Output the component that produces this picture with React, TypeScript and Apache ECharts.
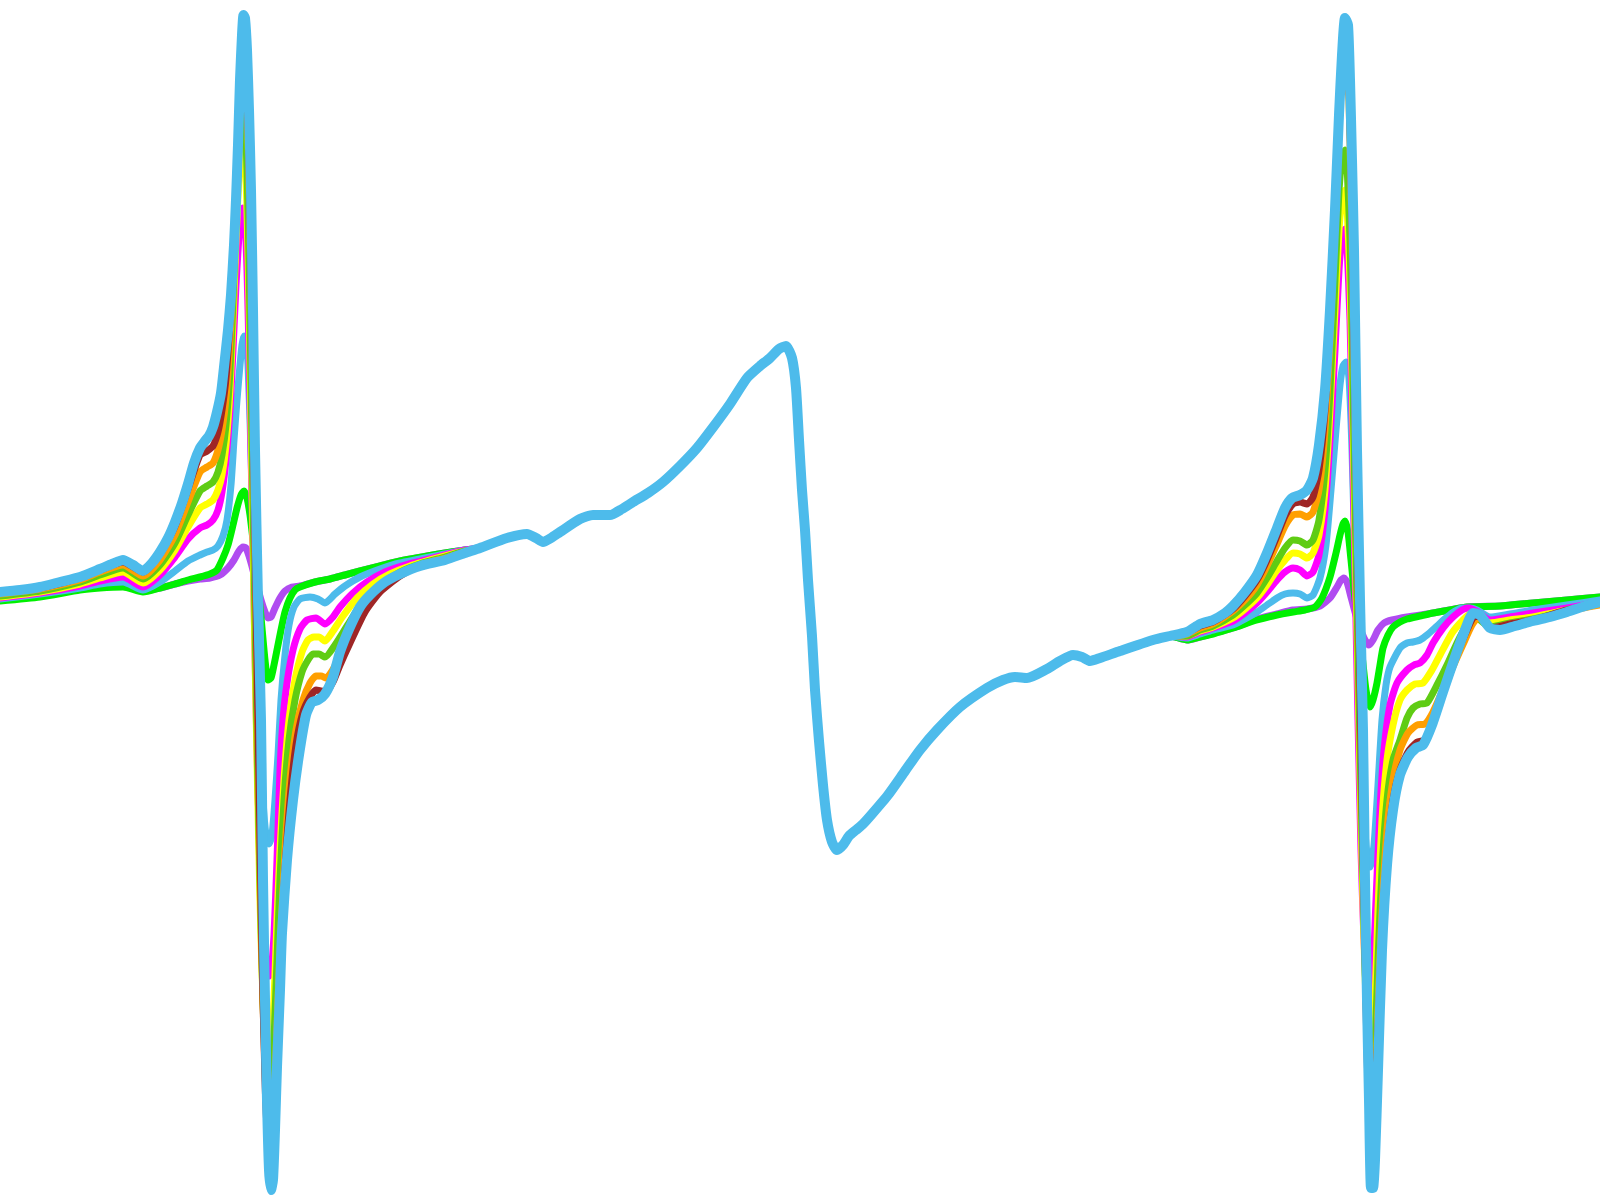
import React, { useEffect, useRef } from "react";
import * as echarts from "echarts";

type P = [number, number];

// x: field position (0..1600), y: signal (plotted on an inverted axis, 0 = top)
const tickValues = [207, 508];

const centerShared: P[] = [
  [480, 548], [507, 538], [527, 534], [536, 538], [543, 542], [551, 538], [560, 532], [580, 519], [593, 515],
  [610, 515], [622, 509], [633, 502], [648, 493], [663, 482], [680, 466], [697, 448], [714, 426], [730, 404],
  [747, 378], [760, 366], [770, 358], [779, 349], [786, 346], [792, 358], [796, 388], [799, 440], [802, 490],
  [805, 530], [808, 580], [812, 636], [815, 690], [819, 741], [823, 785], [827, 820], [832, 842], [837, 850],
  [843, 845], [849, 836], [856, 830], [863, 824], [872, 814], [888, 795], [905, 771], [920, 750], [937, 730],
  [960, 707], [987, 688], [1003, 680], [1015, 677], [1027, 678], [1047, 669], [1060, 661], [1073, 655],
  [1082, 657], [1090, 661], [1100, 658], [1120, 651], [1153, 640], [1170, 636],
];

const bigBlueLeft: P[] = [
  [0, 592], [20, 590], [40, 587], [60, 582], [80, 577], [100, 569], [112, 564], [123, 560], [133, 565], [143, 571],
  [152, 563], [160, 552], [168, 538], [175, 522], [182, 503], [188, 484], [194, 463], [200, 448], [205, 441],
  [209, 436], [213, 427], [217, 412], [221, 393], [224, 367], [228, 330], [231, 295], [234, 245], [236, 200],
  [238, 145], [240, 80], [242, 35], [243.5, 15], [245, 18], [247, 50], [249, 110], [251, 190], [253, 310],
  [255, 450], [258, 600], [261, 720], [263, 880], [265, 1000], [267, 1100], [269, 1170], [271, 1190], [273, 1180],
  [275, 1130], [277, 1067], [280, 990], [282, 933], [287, 860], [293, 800], [299, 755], [306, 715], [312, 702],
  [318, 700], [325, 694], [333, 677], [340, 652], [350, 627], [360, 607], [370, 595], [385, 582], [400, 574],
  [420, 566], [445, 560], [465, 553],
];
const bigBlueRight: P[] = [
  [1187, 632], [1200, 624], [1213, 620], [1225, 613], [1233, 606], [1245, 592], [1257, 575], [1267, 553],
  [1277, 528], [1285, 508], [1292, 498], [1300, 495], [1307, 490], [1313, 478], [1319, 445], [1325, 390],
  [1330, 310], [1335, 210], [1339, 115], [1342, 55], [1345, 18], [1348, 25], [1350, 80], [1352, 160],
  [1354, 250], [1357, 450], [1360, 600], [1363, 730], [1365, 880], [1367, 1000], [1369, 1100], [1371, 1188],
  [1373, 1188], [1375, 1160], [1378, 1070], [1382, 950], [1387, 865], [1393, 810], [1400, 775], [1408, 757],
  [1416, 748], [1423, 745], [1432, 725], [1443, 692], [1455, 657], [1465, 630], [1473, 613], [1480, 615],
  [1490, 628], [1500, 630], [1515, 626], [1533, 621], [1550, 617], [1567, 612], [1585, 606], [1600, 602],
];

const brownLeft: P[] = [
  [0, 592], [40, 588], [80, 578], [100, 570], [123, 562], [143, 572], [160, 554], [175, 526], [188, 489],
  [200, 455], [207, 451], [213, 446], [218, 432], [222, 410], [226, 378], [230, 320], [233, 260], [236, 190],
  [239, 110], [241, 60], [243, 42], [245, 45], [247, 80], [249, 160], [251, 270], [253, 400], [256, 600],
  [259, 780], [262, 950], [265, 1080], [268, 1145], [270, 1155], [272, 1150], [275, 1100], [278, 1020],
  [281, 950], [285, 870], [290, 800], [296, 745], [303, 712], [310, 697], [316, 690], [321, 691], [326, 692],
  [333, 682], [340, 665], [350, 643], [365, 612], [380, 592], [400, 576], [420, 566], [445, 559], [465, 552],
];
const brownRight: P[] = [
  [1187, 633], [1200, 626], [1213, 622], [1233, 609], [1245, 596], [1257, 580], [1267, 560], [1277, 536],
  [1285, 516], [1293, 504], [1300, 502], [1307, 504], [1313, 497], [1319, 470], [1325, 410], [1330, 320],
  [1335, 210], [1339, 115], [1342, 60], [1345, 44], [1348, 60], [1350, 120], [1352, 220], [1355, 400],
  [1358, 580], [1361, 740], [1364, 900], [1367, 1050], [1370, 1150], [1372, 1162], [1375, 1120], [1378, 1030],
  [1382, 930], [1387, 855], [1393, 800], [1400, 770], [1408, 752], [1417, 742], [1425, 740], [1433, 722],
  [1445, 688], [1457, 654], [1467, 630], [1475, 616], [1482, 618], [1490, 628], [1510, 624], [1533, 620],
  [1567, 610], [1600, 603],
];

const orangeLeft: P[] = [
  [0, 594], [40, 589], [80, 580], [100, 572], [123, 565], [143, 576], [160, 560], [175, 535], [188, 502],
  [200, 472], [207, 467], [213, 463], [218, 450], [222, 430], [226, 398], [230, 340], [233, 275], [236, 200],
  [239, 120], [241, 72], [243, 55], [245, 60], [247, 100], [249, 180], [251, 290], [253, 420], [256, 620],
  [259, 800], [262, 960], [265, 1070], [268, 1123], [270, 1133], [272, 1128], [275, 1080], [278, 1000],
  [281, 930], [285, 850], [290, 780], [296, 730], [303, 700], [310, 683], [316, 676], [321, 676], [326, 678],
  [335, 666], [347, 645], [362, 614], [380, 591], [400, 575], [420, 565], [445, 558], [465, 552],
];
const orangeRight: P[] = [
  [1187, 634], [1200, 628], [1213, 624], [1233, 611], [1245, 600], [1257, 585], [1267, 566], [1277, 544],
  [1285, 526], [1293, 515], [1300, 514], [1307, 517], [1313, 512], [1319, 490], [1325, 430], [1330, 340],
  [1335, 220], [1339, 120], [1342, 65], [1345, 55], [1348, 75], [1350, 140], [1352, 240], [1355, 420],
  [1358, 590], [1361, 740], [1364, 890], [1367, 1030], [1370, 1130], [1372, 1145], [1375, 1105], [1378, 1010],
  [1382, 910], [1387, 830], [1393, 780], [1400, 750], [1408, 733], [1417, 725], [1425, 724], [1433, 712],
  [1445, 685], [1455, 662], [1465, 640], [1472, 625], [1478, 618], [1485, 622], [1492, 628], [1510, 624],
  [1533, 620], [1567, 611], [1600, 605],
];

const yellowGreenLeft: P[] = [
  [0, 596], [40, 591], [80, 582], [100, 575], [123, 568], [143, 579], [160, 565], [175, 543], [188, 515],
  [200, 491], [207, 486], [213, 482], [218, 472], [222, 455], [226, 425], [230, 370], [233, 300], [236, 220],
  [239, 150], [241, 118], [243, 108], [245, 118], [247, 170], [249, 260], [251, 380], [254, 560], [257, 730],
  [260, 880], [263, 1000], [266, 1065], [269, 1087], [271, 1085], [274, 1040], [277, 960], [280, 880],
  [284, 800], [289, 740], [295, 700], [302, 672], [308, 660], [313, 654], [319, 654], [325, 657], [335, 645],
  [347, 626], [362, 603], [380, 585], [400, 572], [420, 564], [445, 557], [465, 551],
];
const yellowGreenRight: P[] = [
  [1187, 636], [1200, 630], [1213, 626], [1233, 615], [1245, 605], [1257, 593], [1267, 578], [1277, 561],
  [1285, 548], [1293, 540], [1300, 541], [1307, 545], [1313, 540], [1319, 520], [1325, 470], [1330, 390],
  [1335, 280], [1339, 190], [1342, 160], [1345, 150], [1347, 165], [1350, 240], [1352, 330], [1355, 500],
  [1358, 650], [1361, 790], [1364, 920], [1367, 1030], [1370, 1085], [1372, 1090], [1375, 1050], [1378, 960],
  [1382, 870], [1387, 800], [1393, 760], [1400, 740], [1407, 718], [1413, 708], [1420, 704], [1427, 703],
  [1437, 685], [1447, 665], [1457, 643], [1467, 624], [1473, 617], [1480, 620], [1490, 627], [1510, 623],
  [1533, 619], [1567, 611], [1600, 604],
];

const yellowLeft: P[] = [
  [0, 597], [40, 592], [80, 584], [100, 578], [123, 572], [143, 583], [160, 570], [175, 550], [188, 527],
  [200, 508], [207, 504], [213, 500], [218, 490], [222, 475], [226, 445], [230, 390], [233, 320], [236, 240],
  [239, 175], [241, 150], [243, 143], [245, 155], [247, 210], [249, 300], [251, 420], [254, 600], [257, 760],
  [260, 900], [263, 1000], [266, 1045], [269, 1057], [271, 1050], [274, 1000], [277, 920], [280, 850],
  [284, 780], [289, 720], [295, 680], [302, 652], [308, 640], [314, 637], [319, 637], [325, 641], [333, 631],
  [343, 616], [357, 598], [373, 584], [390, 574], [410, 566], [445, 556], [465, 551],
];
const yellowRight: P[] = [
  [1187, 636], [1200, 631], [1213, 627], [1233, 618], [1245, 609], [1257, 598], [1267, 585], [1277, 570],
  [1285, 560], [1293, 553], [1300, 554], [1307, 558], [1313, 553], [1319, 535], [1325, 490], [1330, 410],
  [1335, 310], [1339, 230], [1342, 200], [1345, 190], [1347, 205], [1350, 280], [1352, 370], [1355, 530],
  [1358, 680], [1361, 820], [1364, 940], [1367, 1020], [1370, 1045], [1372, 1042], [1375, 1000], [1378, 910],
  [1382, 820], [1387, 760], [1393, 725], [1400, 700], [1407, 690], [1415, 684], [1423, 683], [1432, 670],
  [1440, 655], [1452, 633], [1463, 620], [1470, 614], [1478, 617], [1490, 623], [1510, 620], [1533, 617],
  [1567, 610], [1600, 603],
];

const magentaLeft: P[] = [
  [0, 598], [40, 593], [80, 586], [100, 581], [123, 577], [143, 587], [160, 575], [175, 557], [188, 539],
  [200, 528], [207, 525], [213, 520], [218, 510], [222, 492], [226, 460], [230, 410], [233, 350], [236, 285],
  [239, 235], [241, 213], [243, 208], [245, 220], [247, 270], [249, 350], [251, 450], [254, 600], [257, 750],
  [260, 860], [263, 935], [266, 968], [269, 976], [271, 972], [274, 935], [277, 860], [280, 770], [283, 720],
  [287, 683], [293, 650], [300, 629], [307, 620], [316, 618], [325, 624], [333, 617], [340, 607], [353, 593],
  [367, 582], [385, 572], [405, 565], [445, 555], [465, 550],
];
const magentaRight: P[] = [
  [1187, 637], [1200, 632], [1213, 628], [1233, 621], [1245, 613], [1257, 603], [1267, 592], [1277, 580],
  [1285, 572], [1293, 568], [1300, 570], [1307, 576], [1313, 572], [1319, 555], [1325, 510], [1330, 440],
  [1335, 350], [1339, 270], [1342, 238], [1345, 229], [1347, 245], [1350, 320], [1352, 410], [1355, 570],
  [1358, 720], [1361, 850], [1364, 940], [1367, 985], [1370, 995], [1373, 970], [1376, 900], [1380, 810],
  [1384, 750], [1390, 705], [1397, 683], [1407, 670], [1414, 665], [1420, 663], [1427, 655], [1433, 643],
  [1443, 628], [1453, 617], [1462, 610], [1468, 608], [1478, 612], [1490, 620], [1510, 617], [1533, 613],
  [1567, 608], [1600, 602],
];

const skyLeft: P[] = [
  [0, 599], [40, 594], [80, 588], [100, 584], [123, 582], [143, 590], [160, 582], [175, 571], [188, 561],
  [200, 555], [207, 552], [213, 550], [218, 546], [223, 536], [227, 520], [231, 485], [234, 440], [237, 400],
  [240, 365], [242, 345], [244, 336], [246, 340], [248, 365], [250, 420], [253, 520], [256, 630], [260, 730],
  [263, 800], [266, 835], [269, 844], [272, 835], [275, 800], [278, 755], [281, 700], [285, 655], [289, 625],
  [294, 607], [300, 599], [310, 597], [318, 599], [325, 603], [335, 594], [345, 586], [360, 577], [380, 569],
  [400, 563], [445, 554], [465, 550],
];
const skyRight: P[] = [
  [1187, 638], [1200, 634], [1213, 630], [1233, 625], [1245, 619], [1257, 612], [1267, 605], [1277, 598],
  [1285, 594], [1293, 593], [1300, 594], [1307, 598], [1313, 595], [1320, 578], [1326, 545], [1331, 490],
  [1336, 430], [1340, 385], [1343, 366], [1346, 362], [1349, 378], [1352, 450], [1355, 560], [1358, 660],
  [1362, 770], [1366, 845], [1370, 867], [1374, 845], [1378, 785], [1382, 720], [1386, 685], [1390, 667],
  [1400, 648], [1407, 643], [1413, 642], [1420, 640], [1427, 635], [1437, 626], [1447, 617], [1455, 611],
  [1463, 608], [1470, 608], [1477, 610], [1490, 617], [1510, 614], [1533, 610], [1567, 605], [1600, 600],
];

const limeLeft: P[] = [
  [0, 601], [40, 597], [80, 590], [100, 588], [123, 587], [143, 592], [160, 588], [175, 584], [188, 580],
  [200, 577], [210, 574], [217, 570], [223, 558], [228, 545], [233, 525], [237, 508], [241, 495], [244, 491],
  [247, 498], [250, 515], [253, 540], [257, 575], [261, 617], [265, 660], [268, 680], [271, 678], [274, 665],
  [277, 650], [281, 630], [285, 612], [290, 598], [295, 590], [300, 587], [315, 582], [330, 579], [345, 575],
  [360, 571], [380, 566], [400, 561], [445, 553], [465, 550],
];
const limeRight: P[] = [
  [1187, 640], [1200, 637], [1213, 634], [1233, 628], [1257, 620], [1277, 615], [1293, 612], [1305, 610],
  [1315, 607], [1322, 598], [1330, 577], [1336, 553], [1340, 535], [1343, 524], [1345, 521], [1348, 532],
  [1351, 560], [1354, 590], [1358, 625], [1362, 655], [1366, 690], [1370, 707], [1373, 700], [1377, 683],
  [1380, 665], [1383, 648], [1388, 635], [1393, 627], [1400, 622], [1407, 619], [1420, 616], [1433, 613],
  [1450, 610], [1467, 607], [1500, 606], [1533, 603], [1567, 600], [1600, 597],
];

const purpleLeft: P[] = [
  [0, 600], [40, 596], [80, 589], [100, 587], [123, 586], [143, 591], [160, 588], [175, 584], [188, 581],
  [200, 579], [210, 578], [220, 575], [228, 568], [234, 560], [239, 551], [243, 547], [246, 548], [249, 556],
  [253, 570], [257, 585], [261, 600], [265, 612], [268, 618], [271, 617], [275, 608], [280, 598], [285, 591],
  [292, 587], [300, 586], [315, 582], [330, 579], [345, 575], [360, 571], [380, 566], [400, 561], [445, 553],
  [465, 550],
];
const purpleRight: P[] = [
  [1187, 640], [1200, 637], [1233, 628], [1257, 619], [1277, 614], [1293, 610], [1307, 609], [1320, 606],
  [1330, 598], [1337, 587], [1341, 580], [1344, 578], [1347, 582], [1351, 597], [1355, 612], [1360, 628],
  [1365, 640], [1369, 645], [1373, 640], [1378, 630], [1384, 623], [1392, 620], [1407, 617], [1433, 613],
  [1467, 607], [1500, 606], [1533, 603], [1567, 600], [1600, 597],
];

const seriesDefs = [
  { name: "1", color: "#b04cf0", width: 7, left: purpleLeft, right: purpleRight },
  { name: "2", color: "#00f000", width: 7, left: limeLeft, right: limeRight },
  { name: "3", color: "#4dbbeb", width: 7, left: skyLeft, right: skyRight },
  { name: "4", color: "#ff00ff", width: 7, left: magentaLeft, right: magentaRight },
  { name: "5", color: "#ffff00", width: 7, left: yellowLeft, right: yellowRight },
  { name: "6", color: "#5fcc14", width: 7, left: yellowGreenLeft, right: yellowGreenRight },
  { name: "7", color: "#ff9f00", width: 7, left: orangeLeft, right: orangeRight },
  { name: "8", color: "#9e2626", width: 7, left: brownLeft, right: brownRight },
  { name: "9", color: "#4dbbeb", width: 10, left: bigBlueLeft, right: bigBlueRight },
];

export default function App() {
  const ref = useRef<HTMLDivElement>(null);
  useEffect(() => {
    if (!ref.current) return;
    const chart = echarts.init(ref.current, undefined, { renderer: "svg" });
    chart.setOption({
      animation: false,
      backgroundColor: "#ffffff",
      grid: { left: 0, right: 0, top: 0, bottom: 0, containLabel: false },
      xAxis: {
        type: "value",
        min: 0,
        max: 1600,
        axisLine: { show: false },
        splitLine: { show: false },
        axisLabel: { show: false },
        axisTick: {
          show: true,
          inside: true,
          length: 6,
          customValues: tickValues,
          lineStyle: { color: "#c4c4c4", width: 1 },
        },
      },
      yAxis: {
        type: "value",
        inverse: true,
        min: 0,
        max: 1200,
        show: false,
      },
      series: seriesDefs.map((s) => ({
        name: s.name,
        type: "line",
        data: [...s.left, ...centerShared, ...s.right],
        showSymbol: false,
        symbol: "none",
        smooth: 0.2,
        clip: false,
        silent: true,
        lineStyle: { color: s.color, width: s.width, cap: "round", join: "round" },
      })),
    });
    return () => chart.dispose();
  }, []);
  return (
    <div
      ref={ref}
      style={{ position: "fixed", left: 0, top: 0, width: 1600, height: 1200, background: "#fff" }}
    />
  );
}
